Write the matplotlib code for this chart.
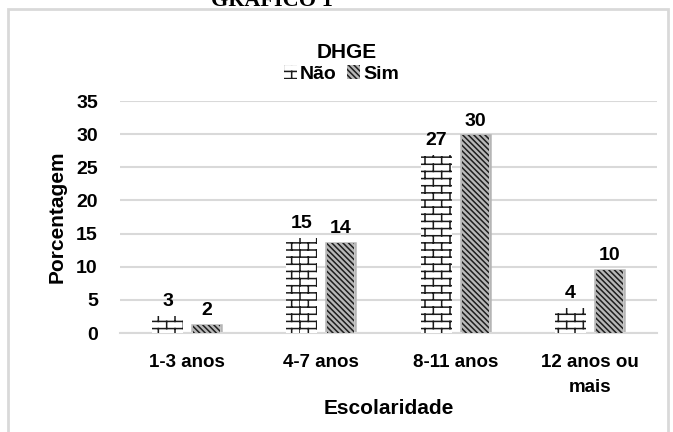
import warnings
import numpy as np
import matplotlib
matplotlib.use('Agg')
import matplotlib.pyplot as plt
import matplotlib.hatch as mhatch
from matplotlib.path import Path
from matplotlib.patches import Rectangle

warnings.filterwarnings('ignore')

# Datos
categorias = ['1-3 anos', '4-7 anos', '8-11 anos', '12 anos ou\nmais']
nao = [2.6, 14.3, 26.9, 3.8]
sim = [1.2, 13.6, 29.8, 9.5]
nao_etq = [3, 15, 27, 4]
sim_etq = [2, 14, 30, 10]


# Patrón de ladrillos (hatch 'b')
class BrickHatch(mhatch.HatchPatternBase):
    rows = 14
    cols = 6

    def __init__(self, hatch, density):
        self.n = hatch.count('b')
        if self.n:
            nseg = (self.rows + 1) + self.rows * (self.cols + 1)
            self.num_vertices = nseg * 2
        else:
            self.num_vertices = 0

    def set_vertices_and_codes(self, vertices, codes):
        segs = []
        for i in range(self.rows + 1):
            y = i / self.rows
            segs.append(((0, y), (1, y)))
        for i in range(self.rows):
            y0, y1 = i / self.rows, (i + 1) / self.rows
            off = 0.5 / self.cols if i % 2 else 0.0
            for k in range(self.cols + 1):
                x = min(k / self.cols + off, 1.0)
                segs.append(((x, y0), (x, y1)))
        pts = np.array(segs, dtype=float).reshape(-1, 2)
        vertices[:] = pts
        codes[0::2] = Path.MOVETO
        codes[1::2] = Path.LINETO


mhatch._hatch_types.append(BrickHatch)

plt.rcParams['font.family'] = ['Liberation Sans', 'DejaVu Sans']
plt.rcParams['font.weight'] = 'bold'
plt.rcParams['hatch.linewidth'] = 1.1

fig = plt.figure(figsize=(6.73, 4.32), dpi=100)
ax = fig.add_axes([120 / 673, 1 - 333 / 432, 537 / 673, 232 / 432])

x = np.arange(len(categorias))
off = 0.145

# Barras "Não" (ladrillos)
b1 = ax.bar(x - off, nao, width=0.23, color='white', edgecolor='#1a1a1a',
            linewidth=0, hatch='b', label='Não', zorder=3)
# Barras "Sim" (diagonales) con borde difuso
ax.bar(x + off, sim, width=0.215, color='none', edgecolor='#b5b5b5',
       linewidth=1.8, zorder=2)
b2 = ax.bar(x + off, sim, width=0.2, color='#b8b8b8', edgecolor='#1e1e1e',
            linewidth=0, hatch='\\\\\\\\\\\\', label='Sim', zorder=3)

for xi, v, t in zip(x - off, nao, nao_etq):
    ax.annotate(str(t), (xi, v), xytext=(0, 7), textcoords='offset points',
                ha='center', va='baseline', fontsize=14, fontweight='bold')
for xi, v, t in zip(x + off, sim, sim_etq):
    ax.annotate(str(t), (xi, v), xytext=(0, 7), textcoords='offset points',
                ha='center', va='baseline', fontsize=14, fontweight='bold')

ax.set_xlim(-0.5, 3.5)
ax.set_ylim(0, 35)
ax.set_yticks(range(0, 36, 5))
ax.set_xticks(x)
ax.set_xticklabels(categorias, fontsize=13.5, linespacing=1.65)
ax.tick_params(axis='y', labelsize=14, length=0, pad=16)
ax.tick_params(axis='x', length=0, pad=15)
ax.grid(axis='y', color='#d9d9d9', linewidth=1.5, zorder=0)
ax.set_axisbelow(True)
for s in ['top', 'right', 'left']:
    ax.spines[s].set_visible(False)
ax.spines['bottom'].set_color('#d9d9d9')
ax.spines['bottom'].set_linewidth(1.5)

ax.set_ylabel('Porcentagem', fontsize=15, fontweight='bold', labelpad=7)
ax.set_xlabel('Escolaridade', fontsize=15, fontweight='bold', labelpad=2)

# Título y leyenda
fig.text(0.515, 1 - 53 / 432, 'DHGE', ha='center', va='center',
         fontsize=15, fontweight='bold')
fig.legend(handles=[b1, b2], loc='center', bbox_to_anchor=(0.507, 1 - 74 / 432),
           ncol=2, frameon=False, fontsize=14, handlelength=0.7,
           handleheight=0.7, handletextpad=0.15, columnspacing=0.5)

fig.text(0.404, 1 - 6 / 432, 'GRÁFICO 1', ha='center', va='baseline',
         fontsize=16, fontweight='bold', family='Liberation Serif')

# Marco exterior
fig.patches.append(Rectangle((8 / 673, -0.02), 660 / 673, 1.02 - 9 / 432,
                             transform=fig.transFigure, fill=False,
                             edgecolor='#d9d9d9', linewidth=2))

fig.savefig('out.png', dpi=100)
